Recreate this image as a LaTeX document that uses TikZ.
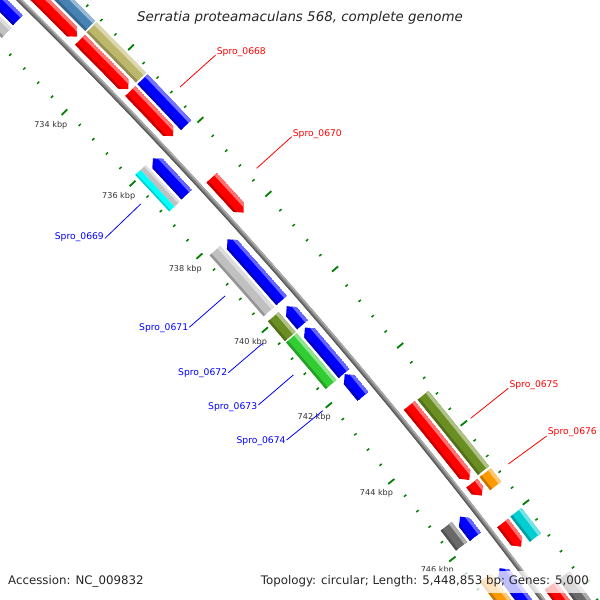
\documentclass[tikz,border=0pt]{standalone}
\usepackage{fontspec}
\setmainfont{DejaVu Sans}

\definecolor{fwdred}{RGB}{255,0,0}
\definecolor{revblue}{RGB}{0,0,255}
\definecolor{tickgreen}{RGB}{0,128,0}
\definecolor{cogsteel}{RGB}{70,130,180}
\definecolor{cogkhaki}{RGB}{189,183,107}
\definecolor{cogsilver}{RGB}{192,192,192}
\definecolor{cogcyan}{RGB}{0,255,255}
\definecolor{cogolive}{RGB}{107,142,35}
\definecolor{coglime}{RGB}{50,205,50}
\definecolor{cogdim}{RGB}{105,105,105}
\definecolor{cogorange}{RGB}{255,153,0}
\definecolor{cogturq}{RGB}{0,206,209}
\definecolor{labelgrey}{RGB}{51,51,51}

\tikzset{
  majtick/.style={tickgreen, line width=1.8},
  mintick/.style={tickgreen, line width=1.5},
  ticklbl/.style={font=\fontsize{8.1}{9}\selectfont, text=labelgrey, inner sep=0},
  fwdlbl/.style={font=\fontsize{9.2}{11}\selectfont, text=fwdred, inner sep=1pt},
  revlbl/.style={font=\fontsize{9.2}{11}\selectfont, text=revblue, inner sep=1pt},
  fwdline/.style={fwdred, line width=0.8},
  revline/.style={revblue, line width=0.8},
  infotext/.style={font=\fontsize{11.8}{14}\selectfont, text=black!85, inner sep=0}
}

\begin{document}
\begin{tikzpicture}[x=1pt, y=1pt]
  \useasboundingbox (0,0) rectangle (600,-600);
  \clip (0,0) rectangle (600,-600);
  \fill[white] (0,0) rectangle (600,-600);

  % everything on the circle, origin at the map centre
  \begin{scope}[shift={(-3616,-3700)}]
    % tick marks, outside and inside the backbone
    \foreach \k in {-4,...,36} {
      \pgfmathsetmacro\a{44.27-0.22*\k}
      \pgfmathtruncatemacro\m{mod(\k+20,5)}
      \ifnum\m=0
        \draw[majtick] (\a:5229) -- (\a:5237);
        \draw[majtick] (\a:5136) -- (\a:5144);
      \else
        \draw[mintick] (\a:5229.5) -- (\a:5232.5);
        \draw[mintick] (\a:5140.5) -- (\a:5143.5);
      \fi
    }

    % backbone
    \draw[line width=4.5, gray] (47:5187) arc[start angle=47, end angle=35, radius=5187];
    \draw[line width=1.5, gray!65] (47:5188.5) arc[start angle=47, end angle=35, radius=5188.5];
    \draw[line width=1.2, gray!70!black] (47:5185.3) arc[start angle=47, end angle=35, radius=5185.3];

    % forward strand genes (arrow tip at the end)
    \foreach \s/\e in {47/44.77, 44.72/43.96, 43.93/43.245, 42.62/42.10,
                       39.30/38.245, 38.20/38.025, 37.645/37.315, 36.78/35} {
      \begin{scope}
        \clip (\s:5209) arc[start angle=\s, end angle=\e+0.08, radius=5209]
          -- (\e:5202) -- ({\e+0.08}:5195)
          arc[start angle=\e+0.08, end angle=\s, radius=5195] -- cycle;
        \draw[line width=14, fwdred] (\s:5202) arc[start angle=\s, end angle=\e, radius=5202];
        \draw[line width=3.5, fwdred!55!white] (\s:5207.25) arc[start angle=\s, end angle=\e, radius=5207.25];
        \draw[line width=2.5, fwdred!78!black] (\s:5196.25) arc[start angle=\s, end angle=\e, radius=5196.25];
      \end{scope}
    }

    % reverse strand genes (arrow tip at the start)
    \foreach \s/\e in {47/45.36, 43.22/42.67, 42.00/41.095, 41.01/40.74,
                       40.70/40.03, 40.02/39.70, 37.99/37.71, 37.27/35} {
      \begin{scope}
        \clip (\s:5172) -- ({\s-0.08}:5179)
          arc[start angle=\s-0.08, end angle=\e, radius=5179]
          -- (\e:5165) arc[start angle=\e, end angle=\s-0.08, radius=5165] -- cycle;
        \draw[line width=14, revblue] (\s:5172) arc[start angle=\s, end angle=\e, radius=5172];
        \draw[line width=3.5, revblue!60!white] (\s:5177.25) arc[start angle=\s, end angle=\e, radius=5177.25];
        \draw[line width=2.5, revblue!75!black] (\s:5166.25) arc[start angle=\s, end angle=\e, radius=5166.25];
      \end{scope}
    }

    % COG classes, forward strand
    \foreach \s/\e/\c in {47/44.75/cogsteel, 44.73/43.955/cogkhaki, 43.93/43.235/revblue,
                          39.29/38.23/cogolive, 38.20/38.015/cogorange,
                          37.65/37.30/cogturq, 36.78/35/cogdim} {
      \draw[line width=14, color=\c] (\s:5219) arc[start angle=\s, end angle=\e, radius=5219];
      \draw[line width=3.5, color=\c!55!white] (\s:5224.25) arc[start angle=\s, end angle=\e, radius=5224.25];
      \draw[line width=2.5, color=\c!78!black] (\s:5213.25) arc[start angle=\s, end angle=\e, radius=5213.25];
    }

    % COG classes, reverse strand
    \foreach \s/\e/\c in {47/45.35/cogsilver, 42.00/41.095/cogsilver, 41.02/40.73/cogolive,
                          40.71/40.03/coglime, 38.00/37.72/cogdim, 37.28/35/cogorange} {
      \draw[line width=14, color=\c] (\s:5155) arc[start angle=\s, end angle=\e, radius=5155];
      \draw[line width=3.5, color=\c!55!white] (\s:5160.25) arc[start angle=\s, end angle=\e, radius=5160.25];
      \draw[line width=2.5, color=\c!78!black] (\s:5149.25) arc[start angle=\s, end angle=\e, radius=5149.25];
    }
    % Spro_0669 has two classes
    \draw[line width=7, cogsilver] (43.22:5158.5) arc[start angle=43.22, end angle=42.665, radius=5158.5];
    \draw[line width=2, cogsilver!50!white] (43.22:5161) arc[start angle=43.22, end angle=42.665, radius=5161];
    \draw[line width=7, cogcyan] (43.22:5151.5) arc[start angle=43.22, end angle=42.665, radius=5151.5];
    \draw[line width=1.5, cogcyan!80!black] (43.22:5148.75) arc[start angle=43.22, end angle=42.665, radius=5148.75];

    % ruler labels
    \foreach \p in {734,736,...,746} {
      \pgfmathsetmacro\a{44.27-0.55*(\p-734)}
      \node[ticklbl] (t\p) at (\a:5121) {\p\ kbp};
    }
  \end{scope}

  % gene labels
  \coordinate (c0668) at (180,-87);
  \node[fwdlbl, anchor=west] (l0668) at (215.7,-51.7) {Spro\_0668};
  \draw[fwdline] (c0668) -- ([yshift=-3.3pt]l0668.west);

  \coordinate (c0670) at (256.7,-168.3);
  \node[fwdlbl, anchor=west] (l0670) at (291.7,-134.3) {Spro\_0670};
  \draw[fwdline] (c0670) -- ([yshift=-2.4pt]l0670.west);

  \coordinate (c0675) at (470.7,-418.3);
  \node[fwdlbl, anchor=west] (l0675) at (508.3,-385) {Spro\_0675};
  \draw[fwdline] (c0675) -- ([yshift=-3.3pt]l0675.west);

  \coordinate (c0676) at (508.3,-464);
  \node[fwdlbl, anchor=west] (l0676) at (546.7,-432) {Spro\_0676};
  \draw[fwdline] (c0676) -- ([yshift=-4pt]l0676.west);

  \coordinate (c0669) at (140.7,-204);
  \node[revlbl, anchor=east] (l0669) at (105,-237.3) {Spro\_0669};
  \draw[revline] (c0669) -- ([yshift=-1pt]l0669.east);

  \coordinate (c0671) at (225,-296);
  \node[revlbl, anchor=east] (l0671) at (189.3,-328) {Spro\_0671};
  \draw[revline] (c0671) -- ([yshift=0.7pt]l0671.east);

  \coordinate (c0672) at (262.7,-343.3);
  \node[revlbl, anchor=east] (l0672) at (228.3,-373.3) {Spro\_0672};
  \draw[revline] (c0672) -- ([yshift=0.6pt]l0672.east);

  \coordinate (c0673) at (293.3,-375);
  \node[revlbl, anchor=east] (l0673) at (258.3,-406.7) {Spro\_0673};
  \draw[revline] (c0673) -- ([yshift=1.7pt]l0673.east);

  \coordinate (c0674) at (322.7,-410.7);
  \node[revlbl, anchor=east] (l0674) at (286.7,-440.7) {Spro\_0674};
  \draw[revline] (c0674) -- ([yshift=0.7pt]l0674.east);

  % title and legend text
  \node[font=\fontsize{13.4}{16}\selectfont\itshape, text=black!85, inner sep=0] (title) at (300,-18)
    {Serratia proteamaculans 568, complete genome};
  \fill[white, opacity=0.75] (256,-571) rectangle (596,-593);
  \node[infotext, anchor=west] (acc) at (8,-581.7) {Accession: NC\_009832};
  \node[infotext, anchor=east] (topo) at (589,-581.7) {Topology: circular; Length: 5,448,853 bp; Genes: 5,000};
\end{tikzpicture}
\end{document}
